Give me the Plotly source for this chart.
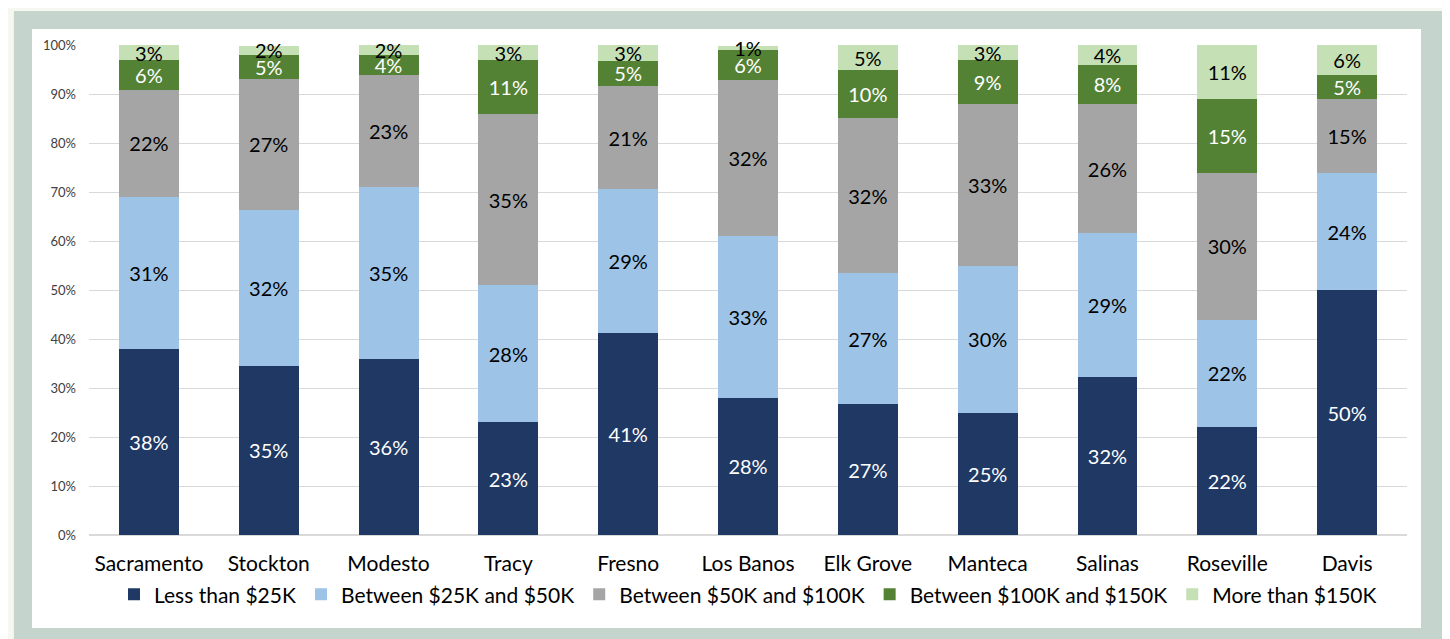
import plotly.graph_objects as go

cities = ['Sacramento', 'Stockton', 'Modesto', 'Tracy', 'Fresno', 'Los Banos',
          'Elk Grove', 'Manteca', 'Salinas', 'Roseville', 'Davis']

less_25k = [0.38, 0.346, 0.36, 0.23, 0.412, 0.28, 0.267, 0.25, 0.322, 0.22, 0.50]
b25_50k = [0.31, 0.318, 0.35, 0.28, 0.294, 0.33, 0.268, 0.30, 0.294, 0.22, 0.24]
b50_100k = [0.22, 0.268, 0.23, 0.35, 0.212, 0.32, 0.316, 0.33, 0.264, 0.30, 0.15]
b100_150k = [0.06, 0.049, 0.04, 0.11, 0.051, 0.06, 0.098, 0.09, 0.081, 0.15, 0.05]
more_150k = [0.03, 0.018, 0.02, 0.03, 0.031, 0.009, 0.051, 0.03, 0.039, 0.11, 0.06]

series = [
    ('Less than $25K', less_25k, '#1f3864', 'white'),
    ('Between $25K and $50K', b25_50k, '#9dc3e6', 'black'),
    ('Between $50K and $100K', b50_100k, '#a5a5a5', 'black'),
    ('Between $100K and $150K', b100_150k, '#548235', 'white'),
    ('More than $150K', more_150k, '#c5e0b4', 'black'),
]

FONT = 'Lato'

fig = go.Figure()
for name, vals, color, tcolor in series:
    fig.add_trace(go.Bar(
        x=cities, y=vals, name=name,
        marker=dict(color=color, line=dict(width=0)),
        texttemplate='%{y:.0%}',
        textposition='inside',
        insidetextanchor='middle',
        insidetextfont=dict(color=tcolor, size=20, family=FONT),
        constraintext='none',
        cliponaxis=False,
        hoverinfo='x+y+name'))

# backgrounds: grey-green frame and white panel, in paper coords
fig.add_shape(type='rect', xref='paper', yref='paper', x0=-0.057, x1=1.0303,
              y0=-0.2122, y1=1.0694, fillcolor='#c5d4cd', line_width=0, layer='below')
fig.add_shape(type='rect', xref='paper', yref='paper', x0=-0.04325, x1=1.01062,
              y0=-0.1898, y1=1.03265, fillcolor='white', line_width=0, layer='below')

# page body adds an 8px offset, so the figure is sized 8px smaller
fig.update_layout(
    barmode='stack',
    bargap=0.5,
    width=1442, height=631,
    margin=dict(l=81, r=43, t=37, b=104),
    paper_bgcolor='#f6f7ef',
    plot_bgcolor='white',
    font=dict(family=FONT, color='black'),
    uniformtext=dict(minsize=20, mode='show'),
    legend=dict(orientation='h', x=0.5, xanchor='center', y=-0.08, yanchor='top',
                font=dict(size=21, family=FONT, color='black'),
                bgcolor='rgba(0,0,0,0)', itemwidth=30, traceorder='normal'),
    showlegend=True,
)
fig.update_yaxes(range=[0, 1.001], tickvals=[i / 10 for i in range(11)], tickformat='.0%',
                 showgrid=True, gridcolor='#d9d9d9', gridwidth=1,
                 zeroline=True, zerolinecolor='#d9d9d9',
                 tickfont=dict(size=13, color='#404040', family=FONT),
                 ticklabelstandoff=12, fixedrange=True)
fig.update_xaxes(tickfont=dict(size=21, color='black', family=FONT),
                 ticklabelstandoff=14, showline=False)

fig.write_html("out.html")
